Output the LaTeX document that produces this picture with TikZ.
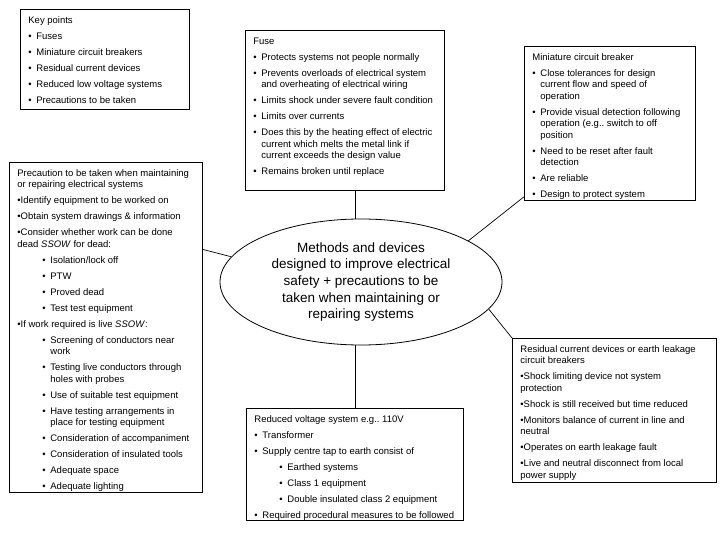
\documentclass[tikz,border=0pt]{standalone}
\usepackage{fontspec}
\setmainfont{Liberation Sans}
\usetikzlibrary{shapes.geometric}

% testo dei riquadri
\newcommand{\boxfont}{\fontsize{9.5}{11.5}\selectfont}
\newcommand{\panel}[3]{\hspace*{8pt}\parbox[t][#2][t]{#1}{\raggedright\setlength{\parskip}{4.5pt}\strut #3}\hspace*{2pt}}
\newcommand{\blt}[1]{\par\hangindent=8pt\hangafter=1\noindent\makebox[8pt][l]{•}#1}
\newcommand{\sblt}[1]{\par\hangindent=33pt\hangafter=1\noindent\hspace*{25pt}\makebox[8pt][l]{•}#1}
\newcommand{\dblt}[1]{\par\noindent•#1}

\begin{document}
\begin{tikzpicture}[x=1pt,y=-1pt,
    panelbox/.style={draw, line width=0.8pt, anchor=north west, inner xsep=0pt, inner ysep=6pt, font=\boxfont},
    hub/.style={draw, ellipse, line width=0.8pt, minimum width=282pt, minimum height=126pt, inner sep=0pt, align=center, font=\fontsize{13.5}{16.7}\selectfont},
    link/.style={line width=0.7pt}]
    \useasboundingbox (0,0) rectangle (720,540);

    % ellisse centrale
    \node[hub] (methods) at (361,282) {Methods and devices\\designed to improve electrical\\safety + precautions to be\\taken when maintaining or\\repairing systems};

    % riquadri
    \node[panelbox] (keypts) at (20,9) {\panel{159pt}{88pt}{Key points
        \blt{Fuses}
        \blt{Miniature circuit breakers}
        \blt{Residual current devices}
        \blt{Reduced low voltage systems}
        \blt{Precautions to be taken}}};

    \node[panelbox] (fuse) at (245,30) {\panel{189pt}{148pt}{Fuse
        \blt{Protects systems not people normally}
        \blt{Prevents overloads of electrical system\newline and overheating of electrical wiring}
        \blt{Limits shock under severe fault condition}
        \blt{Limits over currents}
        \blt{Does this by the heating effect of electric\newline current which melts the metal link if\newline current exceeds the design value}
        \blt{Remains broken until replace}}};

    \node[panelbox] (mcb) at (524,46) {\panel{161pt}{142pt}{Miniature circuit breaker
        \blt{Close tolerances for design\newline current flow and speed of\newline operation}
        \blt{Provide visual detection following\newline operation (e.g..\ switch to off\newline position}
        \blt{Need to be reset after fault\newline detection}
        \blt{Are reliable}
        \blt{Design to protect system}}};

    \node[panelbox] (precaution) at (9,162) {\panel{183pt}{318pt}{Precaution to be taken when maintaining\newline or repairing electrical systems
        \dblt{Identify equipment to be worked on}
        \dblt{Obtain system drawings \& information}
        \dblt{Consider whether work can be done\newline dead \textit{SSOW} for dead:}
        \sblt{Isolation/lock off}
        \sblt{PTW}
        \sblt{Proved dead}
        \sblt{Test test equipment}
        \dblt{If work required is live \textit{SSOW}:}
        \sblt{Screening of conductors near\newline work}
        \sblt{Testing live conductors through\newline holes with probes}
        \sblt{Use of suitable test equipment}
        \sblt{Have testing arrangements in\newline place for testing equipment}
        \sblt{Consideration of accompaniment}
        \sblt{Consideration of insulated tools}
        \sblt{Adequate space}
        \sblt{Adequate lighting}}};

    \node[panelbox] (reduced) at (246,408) {\panel{207pt}{100pt}{Reduced voltage system e.g..\ 110V
        \blt{Transformer}
        \blt{Supply centre tap to earth consist of}
        \sblt{Earthed systems}
        \sblt{Class 1 equipment}
        \sblt{Double insulated class 2 equipment}
        \blt{Required procedural measures to be followed}}};

    \node[panelbox] (rcd) at (512,338) {\panel{194pt}{132pt}{Residual current devices or earth leakage\newline circuit breakers
        \dblt{Shock limiting device not system\newline protection}
        \dblt{Shock is still received but time reduced}
        \dblt{Monitors balance of current in line and\newline neutral}
        \dblt{Operates on earth leakage fault}
        \dblt{Live and neutral disconnect from local\newline power supply}}};

    % collegamenti
    \draw[link] (fuse.south -| reduced.north) -- (methods.north -| reduced.north);
    \draw[link] (methods.south -| reduced.north) -- (reduced.north);
    \draw[link] (methods.21) -- ([yshift=4pt]mcb.south west);
    \draw[link] (methods.348) -- (rcd.north west);
    \draw[link] (methods.169) -- ([yshift=78pt]precaution.east);
\end{tikzpicture}
\end{document}
